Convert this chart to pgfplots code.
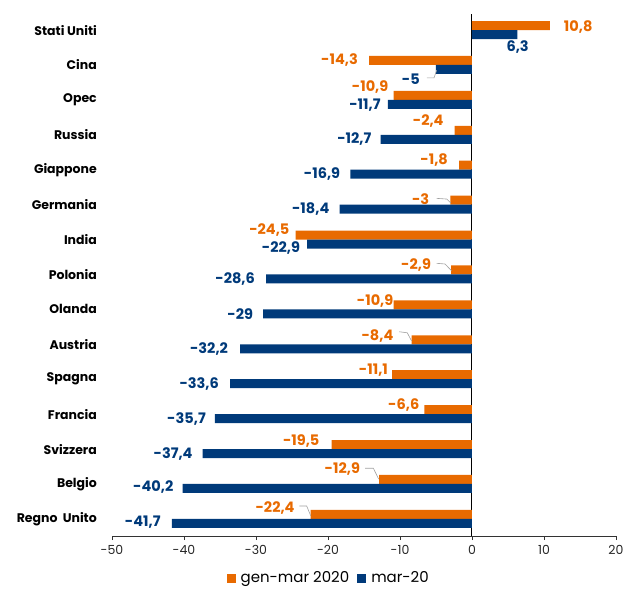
\documentclass[border=0pt]{standalone}
\usepackage{fontspec}
\setmainfont{Poppins}
\usepackage{pgfplots}
\usepackage{pgfplotstable}
\pgfplotsset{compat=1.18}

\definecolor{arancio}{RGB}{232,106,0}
\definecolor{blu}{RGB}{0,58,122}
\definecolor{guida}{RGB}{160,160,160}

% idx = position from top, dx/dy = label offset in pt, anc 1 = label right of bar end
\pgfplotstableread{
idx val dx dy anc
0 10.8 14 -1 1
1 -14.3 -11 0 0
2 -10.9 -5 8 0
3 -2.4 -11 9 0
4 -1.8 -11 5 0
5 -3 -21 1 0
6 -24.5 -6 5 0
7 -2.9 -20 5 0
8 -10.9 0 4 0
9 -8.4 -18 4 0
10 -11.1 -4 5 0
11 -6.6 -5 5 0
12 -19.5 -12 4 0
13 -12.9 -19 10 0
14 -22.4 -16 6 0
}\genmar

\pgfplotstableread{
idx val dx dy anc
0 6.3 -11 -12 1
1 -5 -16 -10 0
2 -11.7 -7 -1 0
3 -12.7 -9 0 0
4 -16.9 -10 0 0
5 -18.4 -10 0 0
6 -22.9 -7 -4 0
7 -28.6 -11 0 0
8 -29 -10 0 0
9 -32.2 -12 0 0
10 -33.6 -11 0 0
11 -35.7 -9 0 0
12 -37.4 -10 0 0
13 -40.2 -9 1 0
14 -41.7 -11 1 0
}\marzo

\begin{document}
\begin{tikzpicture}
\path (-112pt,-50pt) rectangle (516pt,536pt);
\begin{axis}[
    at={(0,0)}, anchor=south west,
    scale only axis,
    width=504pt, height=522pt,
    xbar,
    bar width=0.258,
    xmin=-50, xmax=20,
    ymin=-0.46, ymax=14.49,
    y dir=reverse,
    xtick={-50,-40,...,20},
    ytick={0,...,14},
    yticklabels={Stati Uniti,Cina,Opec,Russia,Giappone,Germania,India,Polonia,Olanda,Austria,Spagna,Francia,Svizzera,Belgio,Regno\ \ Unito},
    axis x line*=bottom,
    axis y line*=left,
    y axis line style={draw=none},
    ytick style={draw=none},
    x axis line style={black!80, line width=0.8pt},
    xtick style={black!80, line width=0.8pt},
    tick align=outside,
    major tick length=4pt,
    extra x ticks={0},
    extra x tick labels={},
    extra x tick style={grid=major, major grid style={black, line width=1pt}, major tick length=0pt},
    /pgf/number format/use comma,
    /pgf/number format/1000 sep={},
    /pgf/number format/assume math mode=true,
    ticklabel style={font=\fontsize{12.5}{14}\selectfont, text=black!85},
    yticklabel style={font=\fontsize{12.5}{14}\selectfont\bfseries, text=black, inner sep=0pt, xshift=-11pt},
    xticklabel style={yshift=-2pt},
    nodes near coords,
    visualization depends on={\thisrow{dx} \as \mydx},
    visualization depends on={\thisrow{dy} \as \mydy},
    visualization depends on={\thisrow{anc} \as \myanc},
    every node near coord/.append style={anchor={\ifdim\myanc pt>0.5pt west\else east\fi}, xshift=\mydx pt, yshift=\mydy pt, inner sep=0pt, font=\fontsize{14.5}{16}\selectfont\bfseries},
    legend style={at={(0.43,0)}, anchor=center, yshift=-42pt, draw=none, legend columns=2,
        font=\fontsize{15}{17}\selectfont, column sep=3pt, /tikz/every even column/.append style={column sep=6pt}},
    legend image code/.code={\fill[#1] (0pt,-4.5pt) rectangle (9pt,4.5pt);},
]
\addplot[fill=arancio, draw=none, bar shift=-0.129, point meta=x, nodes near coords style={text=arancio}]
    table[x=val, y=idx] {\genmar};
\addlegendentry{gen-mar 2020}
\addplot[fill=blu, draw=none, bar shift=0.129, point meta=x, nodes near coords style={text=blu}]
    table[x=val, y=idx] {\marzo};
\addlegendentry{mar-20}

% leader lines
\draw[guida, line width=0.6pt] (axis cs:-6.25,1.37) -- (axis cs:-5.28,1.37) -- (axis cs:-4.9,1.15);
\draw[guida, line width=0.6pt] (axis cs:-4.9,4.82) -- (axis cs:-3.51,4.84) -- (axis cs:-2.95,4.95);
\draw[guida, line width=0.6pt] (axis cs:-4.9,6.68) -- (axis cs:-3.75,6.70) -- (axis cs:-2.85,6.89);
\draw[guida, line width=0.6pt] (axis cs:-10.1,8.64) -- (axis cs:-8.99,8.67) -- (axis cs:-8.4,8.9);
\draw[guida, line width=0.6pt] (axis cs:-14.86,12.55) -- (axis cs:-13.7,12.55) -- (axis cs:-12.96,12.86);
\draw[guida, line width=0.6pt] (axis cs:-23.99,13.63) -- (axis cs:-22.96,13.63) -- (axis cs:-22.4,13.91);
\end{axis}
\end{tikzpicture}
\end{document}
